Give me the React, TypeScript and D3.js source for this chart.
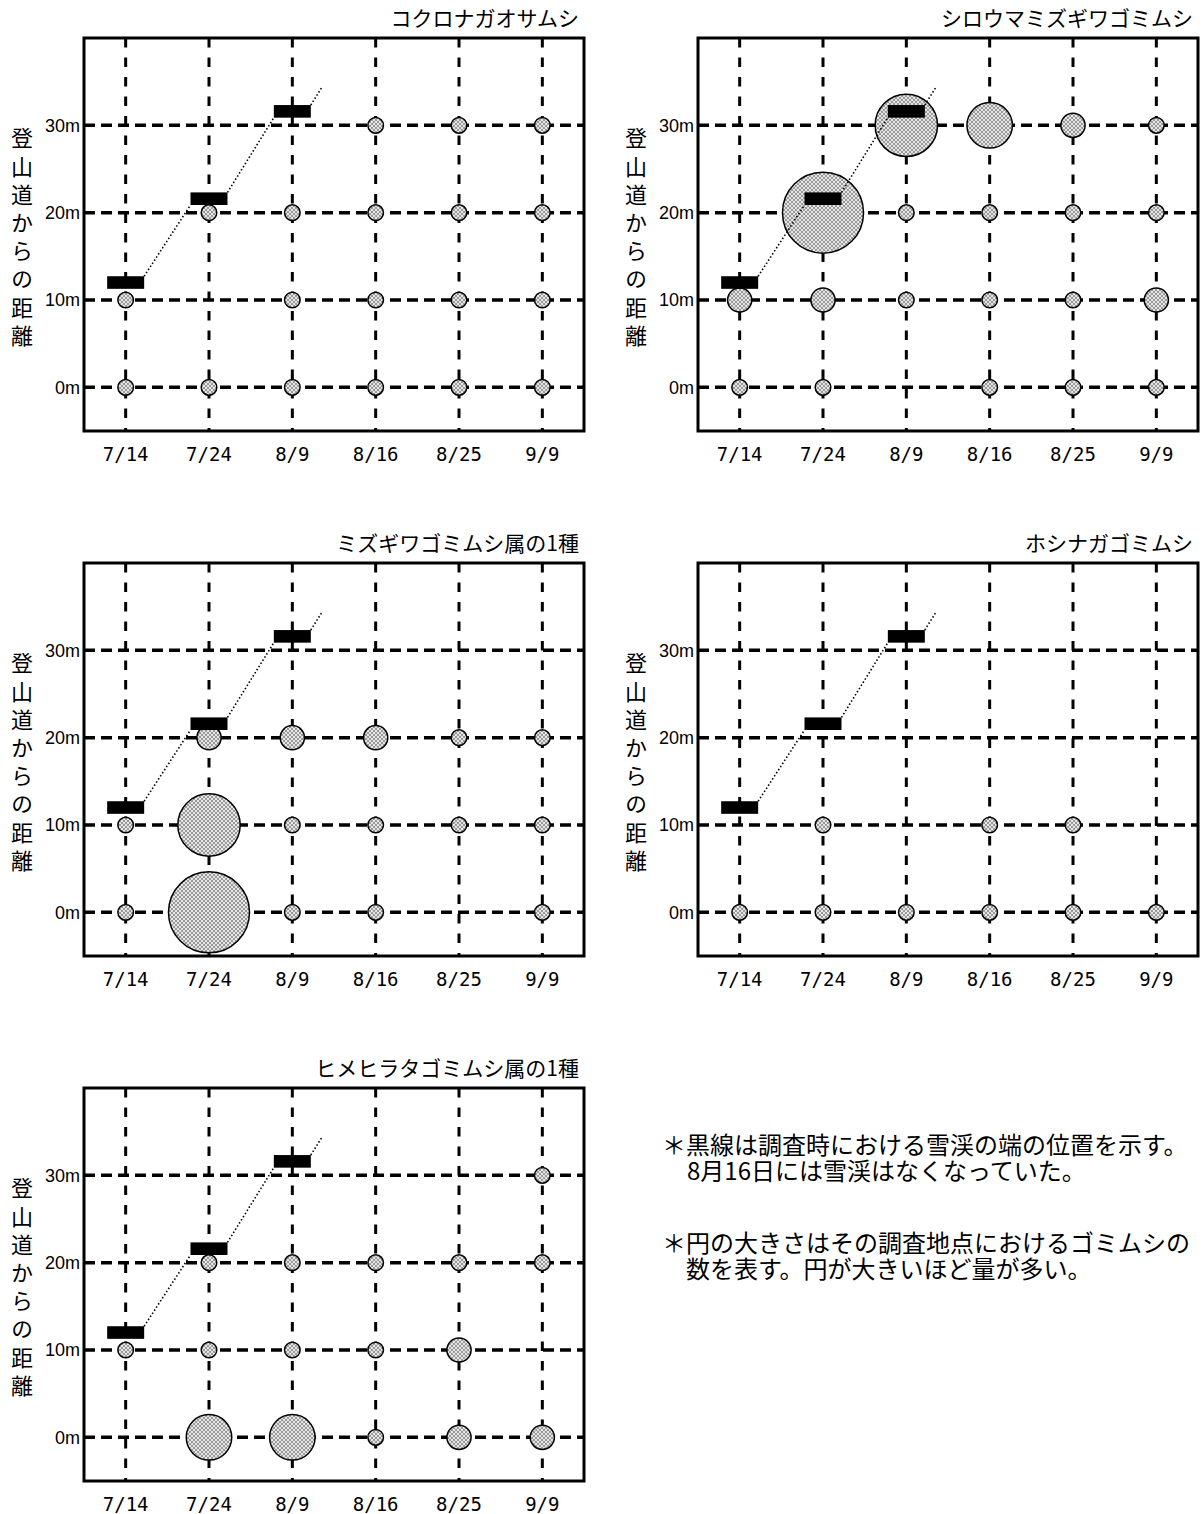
import React from 'react';
import * as d3 from 'd3';

// survey dates (x) and distances from the trail (y)
const dates = ['7/14', '7/24', '8/9', '8/16', '8/25', '9/9'];
const distances = [0, 10, 20, 30];
const distanceLabels = ['0m', '10m', '20m', '30m'];

// snow patch edge at each survey (m from trail)
const snowDates = ['7/14', '7/24', '8/9'];
const snowEdge = [12, 21.6, 31.6];

const speciesNames = [
  'コクロナガオサムシ',
  'シロウマミズギワゴミムシ',
  'ミズギワゴミムシ属の1種',
  'ホシナガゴミムシ',
  'ヒメヒラタゴミムシ属の1種',
];

// relative abundance, rows = 0m,10m,20m,30m, cols = dates (0 = none)
const kokuronaga = [
  [1, 1, 1, 1, 1, 1],
  [1, 0, 1, 1, 1, 1],
  [0, 1, 1, 1, 1, 1],
  [0, 0, 0, 1, 1, 1],
];
const shirouma = [
  [1, 1, 0, 1, 1, 1],
  [2.4, 2.4, 1, 1, 1, 2.4],
  [0, 27, 1, 1, 1, 1],
  [0, 0, 16, 8.5, 2.4, 1],
];
const mizugiwa = [
  [1, 27, 1, 1, 0, 1],
  [1, 16, 1, 1, 1, 1],
  [0, 2.4, 2.4, 2.4, 1, 1],
  [0, 0, 0, 0, 0, 0],
];
const hoshinaga = [
  [1, 1, 1, 1, 1, 1],
  [0, 1, 0, 1, 1, 0],
  [0, 0, 0, 0, 0, 0],
  [0, 0, 0, 0, 0, 0],
];
const himehirata = [
  [0, 8.5, 8.5, 1, 2.4, 2.4],
  [1, 1, 1, 1, 2.4, 0],
  [0, 1, 1, 1, 1, 1],
  [0, 0, 0, 0, 0, 1],
];
const counts = [kokuronaga, shirouma, mizugiwa, hoshinaga, himehirata];

const axisTitle = '登山道からの距離';
const note1 = ['＊黒線は調査時における雪渓の端の位置を示す。', '8月16日には雪渓はなくなっていた。'];
const note2 = ['＊円の大きさはその調査地点におけるゴミムシの', '数を表す。円が大きいほど量が多い。'];

const W = 500;
const H = 393;
const colX = [84, 698];
const rowY = [38, 563, 1088];
const jp = '"Noto Sans CJK JP", sans-serif';

const x = d3.scalePoint().domain(dates).range([0, W]).padding(0.5);
const y = d3.scaleLinear().domain([-5, 40]).range([H, 0]);
const r = d3.scaleSqrt().domain([0, 1]).range([0, 7.8]);

const barW = 37;
const barH = 12.6;

function Panel({ left, top, title, data }) {
  const bars = snowDates.map((d, i) => ({ cx: x(d), cy: y(snowEdge[i]) }));
  const segs = [];
  for (let i = 0; i < bars.length - 1; i++) {
    segs.push([
      [bars[i].cx + barW / 2, bars[i].cy - barH / 2],
      [bars[i + 1].cx - barW / 2, bars[i + 1].cy + barH / 2],
    ]);
  }
  const last = segs[segs.length - 1];
  const slope = (last[1][1] - last[0][1]) / (last[1][0] - last[0][0]);
  const b = bars[bars.length - 1];
  const ex = 11.5;
  segs.push([
    [b.cx + barW / 2, b.cy - barH / 2],
    [b.cx + barW / 2 + ex, b.cy - barH / 2 + slope * ex],
  ]);
  const line = d3.line();

  const dots = [];
  data.forEach((row, ri) =>
    row.forEach((v, ci) => {
      if (v > 0) dots.push({ d: dates[ci], m: distances[ri], v });
    })
  );

  return (
    <g transform={`translate(${left},${top})`}>
      <text x={W - 5} y={-12} textAnchor="end" fontSize={21} fontFamily={jp}>{title}</text>
      {distances.map((m) => (
        <line key={'h' + m} x1={0} x2={W} y1={y(m)} y2={y(m)} stroke="#000" strokeWidth={3.5} strokeDasharray="11 6" />
      ))}
      {dates.map((d) => (
        <line key={'v' + d} x1={x(d)} x2={x(d)} y1={0} y2={H} stroke="#000" strokeWidth={3} strokeDasharray="9.5 10" />
      ))}
      {dots.map((p, i) => (
        <circle key={i} cx={x(p.d)} cy={y(p.m)} r={r(p.v)} fill="url(#hatch)" stroke="#000" strokeWidth={1.5} />
      ))}
      {bars.map((bb, i) => (
        <rect key={i} x={bb.cx - barW / 2} y={bb.cy - barH / 2} width={barW} height={barH} fill="#000" />
      ))}
      {segs.map((s, i) => (
        <path key={i} d={line(s)} stroke="#000" strokeWidth={1.6} strokeDasharray="1.5 2.2" fill="none" />
      ))}
      <rect x={0} y={0} width={W} height={H} fill="none" stroke="#000" strokeWidth={3} />
      {distances.map((m, i) => (
        <text key={'yl' + m} x={-4} y={y(m)} dy="0.36em" textAnchor="end" fontSize={18} fontFamily='"Liberation Sans", Arial, sans-serif'>
          {distanceLabels[i]}
        </text>
      ))}
      {dates.map((d) => (
        <text key={'xl' + d} x={x(d)} y={H + 29.5} textAnchor="middle" fontSize={19} fontFamily='"DejaVu Sans Mono", monospace'>
          {d}
        </text>
      ))}
      <text x={-62} y={89} writingMode="vertical-rl" letterSpacing={6.2} fontSize={22} fontFamily={jp}>
        {axisTitle}
      </text>
    </g>
  );
}

export default function App() {
  return (
    <svg width={1204} height={1514} style={{ position: 'absolute', left: 0, top: 0, background: '#fff' }}>
      <defs>
        <pattern id="hatch" width={4} height={4} patternUnits="userSpaceOnUse">
          <rect width={4} height={4} fill="#9a9a9a" />
          <circle cx={0} cy={0} r={1} fill="#fff" />
          <circle cx={4} cy={0} r={1} fill="#fff" />
          <circle cx={0} cy={4} r={1} fill="#fff" />
          <circle cx={4} cy={4} r={1} fill="#fff" />
          <circle cx={2} cy={2} r={1} fill="#fff" />
        </pattern>
      </defs>
      <rect width={1204} height={1514} fill="#fff" />
      {speciesNames.map((name, i) => (
        <Panel key={name} left={colX[i % 2]} top={rowY[Math.floor(i / 2)]} title={name} data={counts[i]} />
      ))}
      <g fontFamily={jp} fontSize={24}>
        <text x={662} y={1154}>
          <tspan>{note1[0]}</tspan>
          <tspan x={687} dy={26}>{note1[1]}</tspan>
        </text>
        <text x={662} y={1252}>
          <tspan>{note2[0]}</tspan>
          <tspan x={686} dy={26}>{note2[1]}</tspan>
        </text>
      </g>
    </svg>
  );
}
